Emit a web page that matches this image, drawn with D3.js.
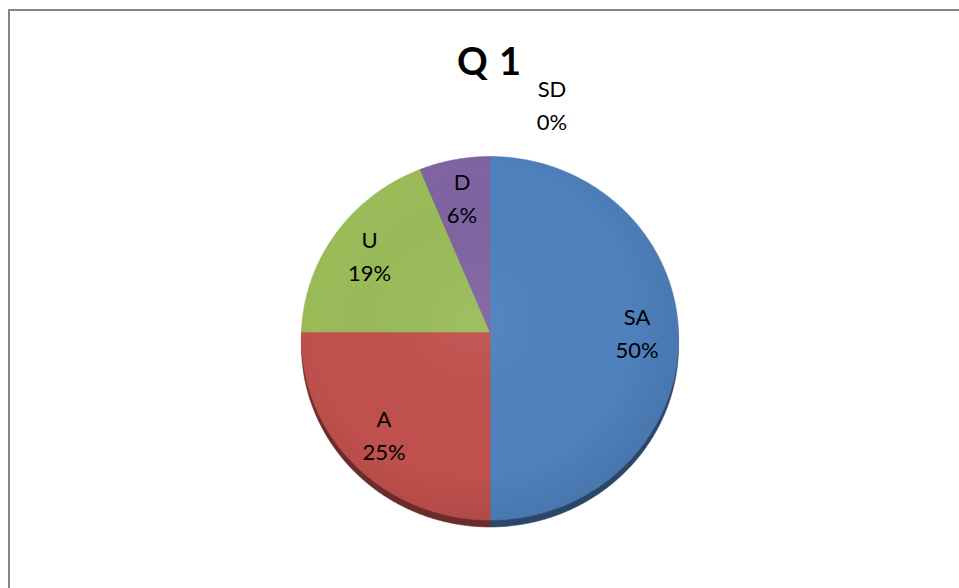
<!DOCTYPE html>
<html>
<head>
<meta charset="utf-8">
<script src="https://cdn.jsdelivr.net/npm/d3@7"></script>
<style>
  body { margin: 0; background: #fff; }
  svg { display: block; }
</style>
</head>
<body>
<div id="chart"></div>
<script>
// chart data
const title = "Q 1";
const categories = ["SA", "A", "U", "D", "SD"];
const counts = [8, 4, 3, 1, 0];
const colors = ["#4F81BD", "#C0504D", "#9BBB59", "#8064A2", "#F79646"];

document.addEventListener("DOMContentLoaded", function () {
    const w = 959;
    const h = 588;

    // pie geometry (3D tilt: top half looks shorter than bottom half)
    const cx = 490, cy = 332;
    const rx = 188.5, ryTop = 175.5, ryBot = 188;
    const depth = 7;
    const c = (ryTop - ryBot) / (ryTop + ryBot);
    const a = ryBot * (1 + c);

    // project a point of the unit disc (angle from 12 o'clock, clockwise) onto the page
    const project = function (angle, r) {
        const u = r * Math.sin(angle);
        const v = -r * Math.cos(angle);
        const den = 1 + c * v;
        return [cx + rx * u / den, cy + a * v / den];
    };

    const svg = d3.select("#chart").append("svg").attr("width", w).attr("height", h);

    svg.append("rect").attr("width", w).attr("height", h).attr("fill", "#fff");
    // chart area border
    svg.append("rect")
        .attr("x", 9).attr("y", 10)
        .attr("width", w + 20).attr("height", h + 20)
        .attr("fill", "none")
        .attr("stroke", "#868686")
        .attr("stroke-width", 2);

    const total = d3.sum(counts);
    const pie = d3.pie().sort(null).value(d => d);
    const slices = pie(counts).map((d, i) => Object.assign(d, {
        name: categories[i],
        color: colors[i],
        pct: Math.round(d.value / total * 100) + "%"
    }));

    const line = d3.line();
    const slicePoints = function (d, dy) {
        const pts = [[cx, cy + dy]];
        const n = Math.max(2, Math.ceil((d.endAngle - d.startAngle) / 0.01));
        for (let k = 0; k <= n; k++) {
            const ang = d.startAngle + (d.endAngle - d.startAngle) * k / n;
            const p = project(ang, 1);
            pts.push([p[0], p[1] + dy]);
        }
        return pts;
    };
    const shown = slices.filter(d => d.value > 0);

    // defs: shading + clip
    const defs = svg.append("defs");
    const grad = defs.append("radialGradient").attr("id", "shade")
        .attr("cx", "45%").attr("cy", "45%").attr("r", "60%");
    grad.append("stop").attr("offset", "0%").attr("stop-color", "#fff").attr("stop-opacity", 0.06);
    grad.append("stop").attr("offset", "70%").attr("stop-color", "#000").attr("stop-opacity", 0.0);
    grad.append("stop").attr("offset", "100%").attr("stop-color", "#000").attr("stop-opacity", 0.10);

    const wallGrad = defs.append("linearGradient").attr("id", "wallShade")
        .attr("x1", 0).attr("y1", 0).attr("x2", 0).attr("y2", 1);
    wallGrad.append("stop").attr("offset", "0%").attr("stop-color", "#000").attr("stop-opacity", 0);
    wallGrad.append("stop").attr("offset", "100%").attr("stop-color", "#000").attr("stop-opacity", 0.25);

    // side wall of the 3D pie
    svg.append("g").selectAll("path")
        .data(shown)
        .enter()
        .append("path")
        .attr("d", d => line(slicePoints(d, depth)) + "Z")
        .attr("fill", d => d3.color(d.color).darker(1.7))
        .attr("stroke", d => d3.color(d.color).darker(1.7))
        .attr("stroke-width", 0.5);

    // top faces
    svg.append("g").selectAll("path")
        .data(shown)
        .enter()
        .append("path")
        .attr("d", d => line(slicePoints(d, 0)) + "Z")
        .attr("fill", d => d.color)
        .attr("stroke", d => d.color)
        .attr("stroke-width", 0.6);

    // soft lighting over the whole top face
    const outline = d3.range(0, 361, 1).map(t => project(t * Math.PI / 180, 1));
    svg.append("path")
        .attr("d", line(outline) + "Z")
        .attr("fill", "url(#shade)");

    // data labels
    const fs = 22;
    const gap = 33;
    const labels = svg.append("g")
        .style("font-family", "Lato, 'Open Sans', sans-serif")
        .style("font-size", fs + "px")
        .attr("fill", "#000")
        .attr("text-anchor", "middle");

    slices.forEach(d => {
        let x, y;
        if (d.value > 0) {
            const p = project((d.startAngle + d.endAngle) / 2, 0.78);
            x = p[0];
            y = p[1] - 8.75 + 2;
        } else {
            // empty slice: label sits outside, above the rim
            const p = project(d.startAngle, 1);
            x = p[0] + 62;
            y = p[1] - 60;
        }
        const t = labels.append("text").attr("x", x).attr("y", y);
        t.append("tspan").attr("x", x).text(d.name);
        t.append("tspan").attr("x", x).attr("dy", gap).text(d.pct);
    });

    // title
    svg.append("text")
        .attr("x", 489.5)
        .attr("y", 75)
        .attr("text-anchor", "middle")
        .style("font-family", "Lato, 'Open Sans', sans-serif")
        .style("font-weight", "bold")
        .style("font-size", "38px")
        .style("letter-spacing", "1px")
        .text(title);
});
</script>
</body>
</html>
